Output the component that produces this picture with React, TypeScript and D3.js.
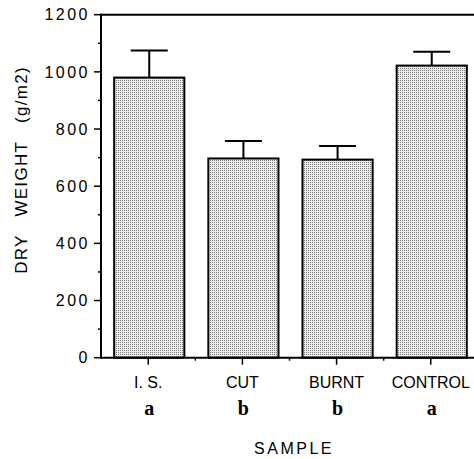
import React from "react";
import * as d3 from "d3";

const categories = ["I. S.", "CUT", "BURNT", "CONTROL"];
const means = [980, 697, 693, 1022];
const errors = [95, 61, 48, 48];
const groupLetters = ["a", "b", "b", "a"];
const yTicks = [0, 200, 400, 600, 800, 1000, 1200];
const yMinorTicks = [100, 300, 500, 700, 900, 1100];

const W = 474;
const H = 459;
const axisX = 101;
const axisY0 = 357.7;
const axisYTop = 14.7;

export default function App() {
  const y = d3.scaleLinear().domain([0, 1200]).range([axisY0, axisYTop]);
  const x = d3
    .scaleBand<string>()
    .domain(categories)
    .range([axisX, 480])
    .paddingInner(0.255)
    .paddingOuter(0.14);
  const bw = x.bandwidth();
  const step = x.step();
  const capHalf = 18.5;
  const sans = "'Liberation Sans', Arial, Helvetica, sans-serif";

  return (
    <svg
      width={W}
      height={H}
      style={{ position: "absolute", left: 0, top: 0, display: "block", background: "#fff" }}
    >
      <defs>
        <pattern id="stipple" patternUnits="userSpaceOnUse" width={2} height={2} x={0} y={0}>
          <rect width={2} height={2} fill="#ececec" />
          <rect width={1} height={1} fill="#7c7c7c" />
        </pattern>
      </defs>

      {/* bars */}
      {categories.map((c, i) => (
        <rect
          key={c}
          x={x(c)!}
          y={y(means[i])}
          width={bw}
          height={y(0) - y(means[i])}
          fill="url(#stipple)"
          stroke="#000"
          strokeWidth={2}
        />
      ))}

      {/* error bars */}
      {categories.map((c, i) => {
        const cx = x(c)! + bw / 2;
        const top = y(means[i] + errors[i]);
        return (
          <g key={"e" + c} stroke="#000" strokeWidth={2}>
            <line x1={cx} x2={cx} y1={y(means[i])} y2={top} />
            <line x1={cx - capHalf} x2={cx + capHalf} y1={top} y2={top} />
          </g>
        );
      })}

      {/* frame: left axis, top line, bottom axis */}
      <line x1={axisX} x2={axisX} y1={y(1200) - 1} y2={y(0) + 1} stroke="#000" strokeWidth={2} />
      <line x1={axisX - 1} x2={W} y1={y(1200)} y2={y(1200)} stroke="#000" strokeWidth={2} />
      <line x1={axisX - 1} x2={W} y1={y(0)} y2={y(0)} stroke="#000" strokeWidth={2} />

      {/* y ticks */}
      {yTicks.map((t) => (
        <g key={"yt" + t}>
          <line x1={axisX - 7} x2={axisX} y1={y(t)} y2={y(t)} stroke="#000" strokeWidth={1.5} />
          <text
            x={90}
            y={y(t)}
            dy="0.36em"
            textAnchor="end"
            fontFamily={sans}
            fontSize={16}
            letterSpacing={2.5}
            fill="#000"
          >
            {t}
          </text>
        </g>
      ))}
      {yMinorTicks.map((t) => (
        <line key={"ym" + t} x1={axisX - 3} x2={axisX} y1={y(t)} y2={y(t)} stroke="#000" strokeWidth={1.5} />
      ))}

      {/* x ticks */}
      {categories.map((c, i) => {
        const cx = x(c)! + bw / 2 - 1;
        return (
          <g key={"xt" + c}>
            <line x1={cx} x2={cx} y1={y(0)} y2={y(0) + 7} stroke="#000" strokeWidth={1.5} />
            {i < categories.length - 1 && (
              <line
                x1={cx + step / 2}
                x2={cx + step / 2}
                y1={y(0)}
                y2={y(0) + 3}
                stroke="#000"
                strokeWidth={1.5}
              />
            )}
            <text
              x={cx}
              y={387.7}
              textAnchor="middle"
              fontFamily={sans}
              fontSize={16}
              fill="#000"
            >
              {c}
            </text>
            <text
              x={cx + 1}
              y={415}
              textAnchor="middle"
              fontFamily="'Liberation Serif', 'Times New Roman', serif"
              fontWeight="bold"
              fontSize={20}
              fill="#000"
            >
              {groupLetters[i]}
            </text>
          </g>
        );
      })}

      {/* axis titles */}
      <text
        x={294}
        y={454}
        textAnchor="middle"
        fontFamily={sans}
        fontSize={16}
        letterSpacing={2.5}
        fill="#000"
      >
        SAMPLE
      </text>
      <text
        transform={`translate(27,170) rotate(-90)`}
        textAnchor="middle"
        fontFamily={sans}
        fontSize={17}
        letterSpacing={1.3}
        fill="#000"
        style={{ whiteSpace: "pre" }}
      >
        {"DRY   WEIGHT   (g/m2)"}
      </text>
    </svg>
  );
}
